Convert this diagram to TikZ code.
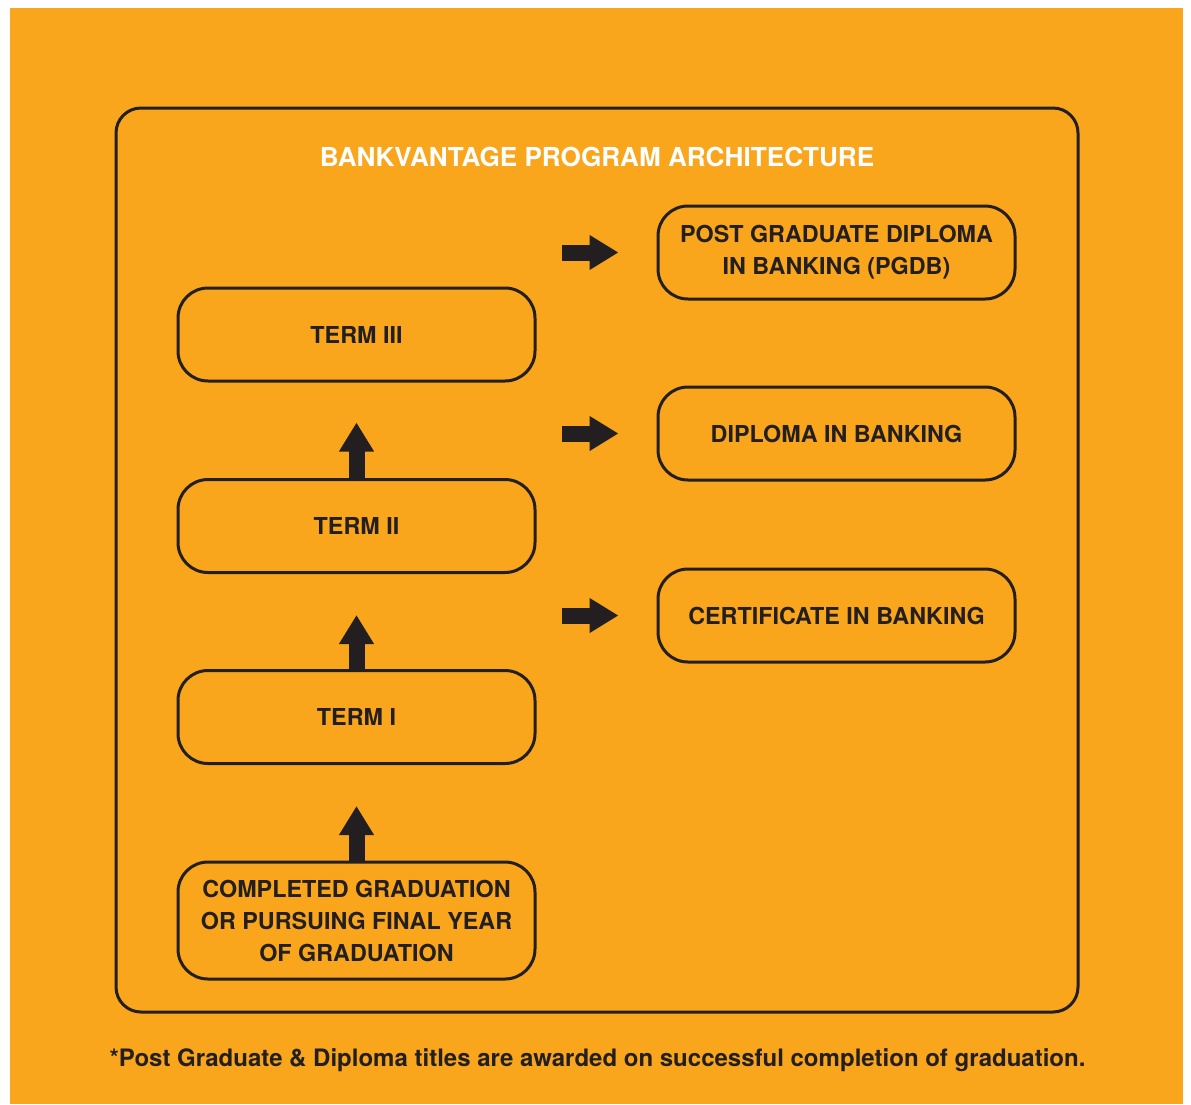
\documentclass[tikz,border=0pt]{standalone}
\usepackage{fontspec}
\setmainfont{TeX Gyre Heros}
\usetikzlibrary{arrows.meta}
\definecolor{bvorange}{RGB}{249,166,28}
\definecolor{bvdark}{RGB}{35,31,32}
\tikzset{every picture/.style={line width=0.75pt}}
\tikzset{
	stage/.style={draw=bvdark, line width=2.25pt, rounded corners=22.5pt,
		minimum width=267.75pt, minimum height=69.75pt, inner sep=0pt,
		align=center, text=bvdark, font=\bfseries\fontsize{17.5}{24}\selectfont},
	flow/.style={draw=bvdark, line width=12pt, -{Triangle[length=21.75pt,width=24.75pt]}}
}
\begin{document}
\begin{tikzpicture}[x=0.75pt,y=0.75pt,yscale=-1,xscale=1]
	\useasboundingbox (0,0) rectangle (1191,1104);
	%background and frame
	\fill [bvorange] (10,8) rectangle (1183,1104);
	\draw [bvdark, line width=2.25pt, rounded corners=18.75pt] (116,108) rectangle (1078,1012);

	% Text Node
	\node (title) [text=white, font=\bfseries\fontsize{19.6}{24}\selectfont] at (597,157) {BANKVANTAGE PROGRAM ARCHITECTURE};

	%left column
	\node (term3) [stage] at (356.5,334.5) {TERM III};
	\node (term2) [stage] at (356.5,526) {TERM II};
	\node (term1) [stage] at (356.5,717) {TERM I};
	\node (start) [stage, minimum height=87.75pt] at (356.5,920.5) {COMPLETED GRADUATION\\OR PURSUING FINAL YEAR\\OF GRADUATION};

	%right column
	\node (pgdb) [stage] at (836.5,252.5) {POST GRADUATE DIPLOMA\\IN BANKING (PGDB)};
	\node (dib) [stage] at (836.5,433.5) {DIPLOMA IN BANKING};
	\node (cib) [stage] at (836.5,615.5) {CERTIFICATE IN BANKING};

	%arrows
	\draw [flow, shorten >=30.75pt] (start) -- (term1);
	\draw [flow, shorten >=30.75pt] (term1) -- (term2);
	\draw [flow, shorten >=30pt] (term2) -- (term3);
	\draw [flow, shorten <=19pt, shorten >=28.5pt] (term3.east |- pgdb.west) -- (pgdb.west);
	\draw [flow, shorten <=19pt, shorten >=28.5pt] (term3.east |- dib.west) -- (dib.west);
	\draw [flow, shorten <=19pt, shorten >=28.5pt] (term3.east |- cib.west) -- (cib.west);

	% Text Node
	\node (note) [text=bvdark, font=\bfseries\fontsize{18}{20}\selectfont] at (597.5,1060) {*Post Graduate \& Diploma titles are awarded on successful completion of graduation.};
\end{tikzpicture}
\end{document}
